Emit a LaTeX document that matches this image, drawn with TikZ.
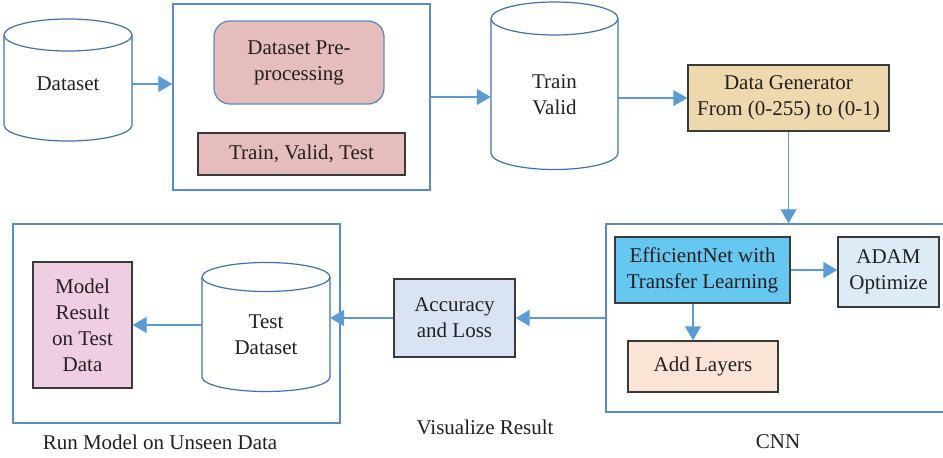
\documentclass[tikz,border=0pt]{standalone}
\usepackage{fontspec}
\setmainfont{Liberation Serif}
\usetikzlibrary{arrows.meta,calc}

\definecolor{flowblue}{HTML}{5B9BD5}
\definecolor{frameblue}{HTML}{5A8CC4}
\definecolor{cylblue}{HTML}{3E72AE}
\definecolor{boxedge}{HTML}{3A3A3A}
\definecolor{txt}{HTML}{231F20}
\definecolor{rosefill}{HTML}{E6BDBD}
\definecolor{sandfill}{HTML}{EED9AE}
\definecolor{cyanfill}{HTML}{66C7F0}
\definecolor{icefill}{HTML}{DDEBF7}
\definecolor{peachfill}{HTML}{FBE4D5}
\definecolor{steelfill}{HTML}{DAE3F3}
\definecolor{orchidfill}{HTML}{EFCDE3}

% cylinder outline: x-left, x-right, top ellipse centre y, bottom ellipse centre y, y radius
\newcommand\dbcylinder[5]{%
  \draw[cylline] (#1,#3) -- (#1,#4)
    arc[start angle=180,end angle=0,x radius={(#2-#1)/2},y radius=#5] -- (#2,#3);
  \draw[cylline] ({(#1+#2)/2},#3) ellipse[x radius={(#2-#1)/2},y radius=#5];}

\begin{document}
\begin{tikzpicture}[x=1pt,y=-1pt,
  font=\fontsize{21}{26}\selectfont, text=txt,
  every node/.style={inner sep=0pt,align=center},
  frame/.style={draw=frameblue,line width=1.5pt},
  stepbox/.style={draw=boxedge,line width=1.4pt},
  cylline/.style={draw=cylblue,line width=1.2pt},
  dbtext/.style={minimum width=128pt},
  flow/.style={draw=flowblue,line width=1.4pt,-{Triangle[length=14pt,width=16pt]}}]

\useasboundingbox (0,0) rectangle (943,458);

% top row
\dbcylinder{4}{132}{35}{125}{16}
\node[dbtext] (ds) at (68,84) {Dataset};

\node[frame,minimum width=257pt,minimum height=186pt] (prep) at (301.5,97) {};
\node[draw=frameblue,line width=1.3pt,fill=rosefill,rounded corners=16pt,
      minimum width=170pt,minimum height=83pt] (pre) at (299,62.5) {Dataset Pre-\\processing};
\node[stepbox,fill=rosefill,minimum width=207pt,minimum height=42pt] (split) at (301.5,154) {Train, Valid, Test};

\dbcylinder{491}{618}{18.5}{153}{16.5}
\node[dbtext,minimum width=127pt] (tv) at (554.5,95) {Train\\Valid};

\node[stepbox,fill=sandfill,minimum width=201pt,minimum height=66pt] (dg) at (788.5,98)
  {Data Generator\\From (0-255) to (0-1)};

% CNN block
\node[frame,minimum width=340pt,minimum height=188pt] (cnn) at (776,318) {};
\node[stepbox,fill=cyanfill,minimum width=175pt,minimum height=66pt] (eff) at (702.5,270)
  {EfficientNet with\\Transfer Learning};
\node[stepbox,fill=icefill,minimum width=101pt,minimum height=70pt] (adam) at (888.5,272)
  {ADAM\\Optimize};
\node[stepbox,fill=peachfill,minimum width=150pt,minimum height=51pt] (add) at (703,366.5)
  {Add Layers};
\node (cnnlbl) at (778,442) {CNN};

% visualisation
\node[stepbox,fill=steelfill,minimum width=121pt,minimum height=78pt] (acc) at (454.5,318)
  {Accuracy\\and Loss};
\node (vislbl) at (485,427) {Visualize Result};

% unseen data block
\node[frame,minimum width=327pt,minimum height=199pt] (run) at (176.5,323.5) {};
\node[stepbox,fill=orchidfill,minimum width=99pt,minimum height=126pt] (model) at (82.5,325)
  {Model\\Result\\on Test\\Data};
\dbcylinder{202}{330}{277}{377}{14.5}
\node[dbtext] (tst) at (266,335) {Test\\Dataset};
\node (runlbl) at (160,442) {Run Model on Unseen Data};

% connectors
\draw[flow] (ds.east) -- (ds.east -| prep.west);
\draw[flow] (prep.east) -- (prep.east -| tv.west);
\draw[flow] (dg.west -| tv.east) -- (dg.west);
\draw[flow] (dg.south) -- (dg.south |- cnn.north);
\draw[flow] (eff.east) -- (eff.east -| adam.west);
\draw[flow] ([xshift=-9.5pt]eff.south) -- ([xshift=-9.5pt]eff.south |- add.north);
\draw[flow] (cnn.west) -- (acc.east);
\draw[flow] (acc.west) -- (acc.west -| tst.east);
\draw[flow] (model.east -| tst.west) -- (model.east);
\end{tikzpicture}
\end{document}
